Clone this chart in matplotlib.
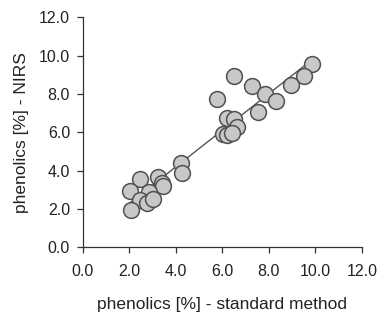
import numpy as np
import matplotlib
matplotlib.use("Agg")
import matplotlib.pyplot as plt

# values (standard method vs NIRS, %)
standard = [9.87, 9.51, 8.95, 6.50, 7.28, 7.84, 8.30, 5.76, 7.51, 6.20,
            6.50, 6.62, 6.03, 6.19, 6.42, 4.21, 4.25, 3.25, 3.41, 3.44,
            2.46, 2.03, 2.86, 2.46, 2.75, 3.03, 2.06]
nirs = [9.55, 8.94, 8.49, 8.94, 8.42, 8.00, 7.63, 7.72, 7.06, 6.77,
        6.68, 6.28, 5.90, 5.86, 5.95, 4.38, 3.89, 3.68, 3.35, 3.20,
        3.56, 2.95, 2.87, 2.47, 2.33, 2.50, 1.95]
ticks = [0, 2, 4, 6, 8, 10, 12]

plt.rcParams['font.family'] = ['Liberation Sans', 'DejaVu Sans']

fig = plt.figure(figsize=(3.86, 3.22), dpi=100)
ax = fig.add_axes([0.214, 0.232, 0.724, 0.714])

x = np.array(standard)
y = np.array(nirs)
slope, icpt = np.polyfit(x, y, 1)
xs = np.array([x.min(), x.max()])
ax.plot(xs, slope * xs + icpt, color="#555555", linewidth=1.0, zorder=2)

ax.scatter(x, y, s=130, facecolor="#c8c8c8", edgecolor="#505050",
           linewidth=1.1, zorder=3)

ax.set_xlim(0, 12)
ax.set_ylim(0, 12)
ax.set_xticks(ticks)
ax.set_yticks(ticks)
ax.set_xticklabels([f"{t:.1f}" for t in ticks])
ax.set_yticklabels([f"{t:.1f}" for t in ticks])
for s in ["top", "right"]:
    ax.spines[s].set_visible(False)
for s in ["left", "bottom"]:
    ax.spines[s].set_color("#333333")
    ax.spines[s].set_linewidth(0.9)
ax.tick_params(direction="out", length=4, width=0.9, color="#333333",
               labelsize=11.5, labelcolor="#222222", pad=5)
ax.tick_params(axis="x", pad=8)

ax.set_xlabel("phenolics [%] - standard method", fontsize=12.5,
              color="#222222", labelpad=13)
ax.set_ylabel("phenolics [%] - NIRS", fontsize=12.5, color="#222222",
              labelpad=7)

fig.savefig("out.png", dpi=100)
